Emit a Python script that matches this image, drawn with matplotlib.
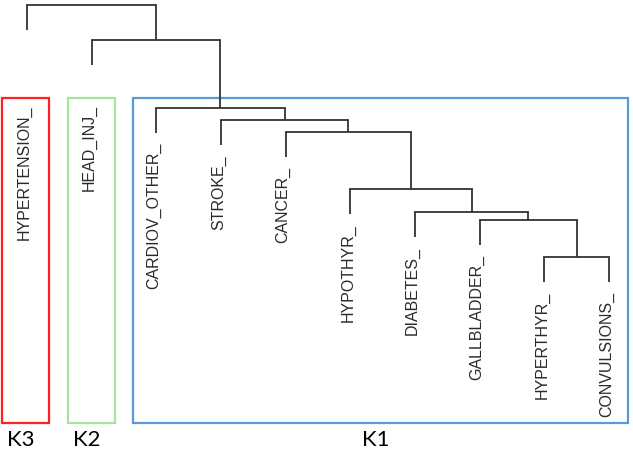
import matplotlib
matplotlib.use('Agg')
import matplotlib.pyplot as plt
from matplotlib.patches import Rectangle

# leaves in plotting order
leaves = ['HYPERTENSION_', 'HEAD_INJ_', 'CARDIOV_OTHER_', 'STROKE_', 'CANCER_',
          'HYPOTHYR_', 'DIABETES_', 'GALLBLADDER_', 'HYPERTHYR_', 'CONVULSIONS_']
# merge table (R hclust style): negative = leaf number, positive = earlier merge step
merge_left = [-9, -8, -7, -6, -5, -4, -3, -2, -1]
merge_right = [-10, 1, 2, 3, 4, 5, 6, 7, 8]
merge_height = [4.3, 8.0, 8.8, 11.1, 16.8, 18.0, 19.2, 26.0, 29.5]
hang = 2.5

# clusters: name, first leaf, last leaf, colour
clusters = ['K3', 'K2', 'K1']
cluster_first = [0, 1, 2]
cluster_last = [0, 1, 9]
cluster_colors = ['#ff2020', '#a8e4a0', '#5b9bd5']

fig = plt.figure(figsize=(6.33, 4.5), dpi=100)
ax = fig.add_axes([0, 0, 1, 1])
ax.set_xlim(-0.4175, 9.371)
ax.set_ylim(-15, 30)
ax.axis('off')

lc = '#333333'
xpos = {}
leaf_bottom = {}

def node_pos(k):
    if k < 0:
        return float(-k - 1), None
    return xpos[k], merge_height[k - 1]

for step in range(1, len(merge_height) + 1):
    h = merge_height[step - 1]
    xs = []
    for child in (merge_left[step - 1], merge_right[step - 1]):
        x, ch = node_pos(child)
        if ch is None:
            ch = h - hang
            leaf_bottom[-child - 1] = ch
        ax.plot([x, x], [ch, h], color=lc, lw=1.3, solid_capstyle='butt')
        xs.append(x)
    ax.plot(xs, [h, h], color=lc, lw=1.3, solid_capstyle='projecting')
    xpos[step] = sum(xs) / 2

# cluster boxes
pad_l = [0.387, 0.366, 0.361]
pad_r = [0.34, 0.361, 0.293]
box_top, box_bot = 20.2, -12.3
for i in range(len(clusters)):
    x0 = cluster_first[i] - pad_l[i]
    x1 = cluster_last[i] + pad_r[i]
    ax.add_patch(Rectangle((x0, box_bot), x1 - x0, box_top - box_bot, fill=False,
                           edgecolor=cluster_colors[i], lw=1.6))
    ax.text((x0 + x1) / 2 - 0.08, -14.0, clusters[i], ha='center', va='center',
            fontsize=16, family='Lato', color='black')

# leaf labels
for i, name in enumerate(leaves):
    ytop = min(leaf_bottom[i] - 1.0, box_top - 0.7)
    ax.text(i - 0.04, ytop, name, rotation=90, ha='center', va='top',
            fontsize=11.5, family='Liberation Sans', color='#2a2a2a')

fig.savefig('out.png', dpi=100)
